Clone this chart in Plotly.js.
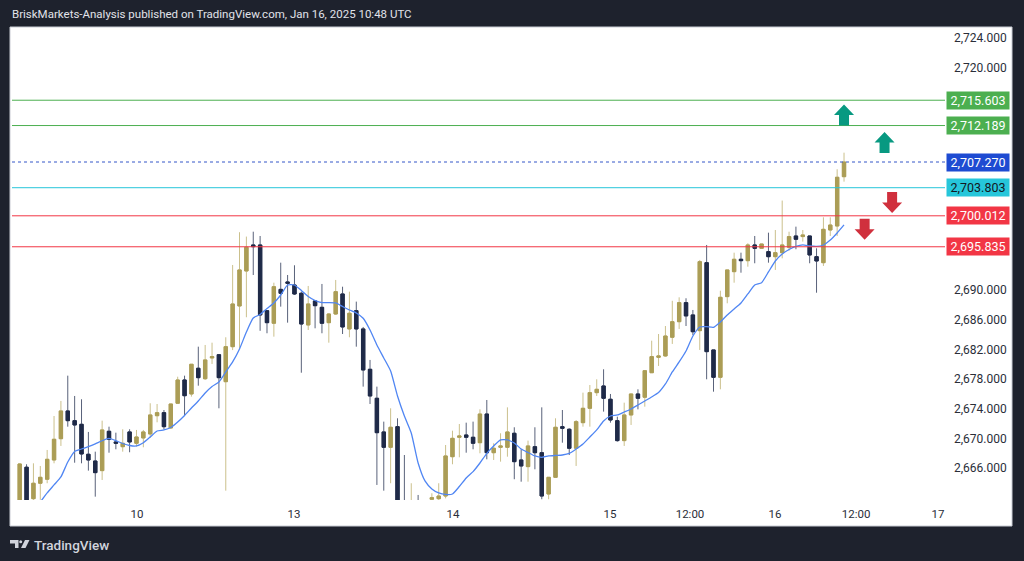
<!DOCTYPE html>
<html><head><meta charset="utf-8">
<script src="https://cdn.plot.ly/plotly-3.0.1.min.js"></script>
<style>html,body{margin:0;padding:0;background:#1e222d;}#chart{width:1024px;height:561px;}</style>
</head><body><div id="chart"></div>
<script>
// ---- data (hourly XAUUSD candles) ----
const openVals = [
2660.6,2666.10,2661.86,2663.94,2664.48,2667.08,2669.95,2673.69,2672.38,2671.89,
2667.85,2666.94,2665.64,2670.95,2669.51,2668.87,2670.86,2669.33,2670.05,2670.59,
2673.05,2673.46,2671.40,2674.73,2677.87,2675.98,2679.45,2678.04,2680.84,2681.28,
2677.64,2682.36,2687.85,2692.57,2696.08,2696.08,2687.22,2685.52,2690.09,2691.09,
2690.68,2689.56,2685.29,2688.53,2687.67,2685.60,2686.77,2689.47,2684.75,2687.22,
2684.75,2679.31,2675.40,2670.86,2668.79,2671.57,2661.0,2659.4,2660.8,2659.9,
2661.78,2661.86,2662.22,2667.52,2670.14,2670.45,2670.14,2669.41,2673.28,2668.06,
2668.79,2668.79,2670.68,2667.08,2666.18,2668.87,2668.06,2662.49,2664.74,2671.57,
2671.22,2668.66,2672.11,2674.05,2676.16,2677.06,2675.27,2672.38,2669.69,2673.15,
2675.98,2675.54,2678.85,2680.93,2681.11,2683.63,2685.73,2688.30,2686.64,2684.52,
2693.69,2681.92,2678.23,2689.11,2692.48,2694.15,2693.96,2696.08,2695.63,2695.18,
2694.50,2695.04,2695.77,2697.29,2697.21,2697.29,2694.50,2693.69,2698.10,2698.64,
2705.29];
const highVals = [
2666.62,2666.50,2666.63,2666.27,2668.43,2673.01,2675.04,2678.45,2675.71,2675.27,
2670.86,2668.20,2672.38,2671.57,2670.76,2671.22,2671.22,2671.13,2671.13,2674.73,
2674.63,2673.82,2674.63,2678.31,2678.45,2679.99,2682.36,2682.59,2682.90,2681.28,
2683.63,2693.38,2697.80,2697.21,2697.87,2697.29,2687.22,2690.99,2693.69,2692.03,
2693.34,2689.78,2690.55,2688.66,2690.82,2686.87,2691.36,2690.45,2689.78,2688.44,
2685.02,2680.57,2676.97,2672.25,2674.05,2672.70,2667.75,2663.94,2662.36,2661.4,
2662.59,2663.94,2669.10,2671.03,2671.93,2672.11,2672.25,2673.91,2675.17,2669.33,
2670.68,2674.18,2671.49,2668.52,2669.69,2671.49,2674.18,2664.74,2672.70,2673.82,
2671.35,2672.47,2676.16,2677.19,2677.96,2679.31,2675.98,2672.92,2674.81,2675.98,
2676.61,2679.12,2683.17,2684.07,2685.15,2688.55,2689.02,2688.89,2687.31,2694.06,
2696.08,2681.92,2689.91,2692.71,2695.04,2695.04,2696.31,2697.29,2696.21,2697.74,
2698.10,2702.07,2697.87,2698.55,2698.10,2697.29,2695.63,2699.81,2699.81,2706.29,
2708.53];
const lowVals = [
2660.2,2660.0,2661.5,2661.70,2663.94,2666.63,2668.97,2671.57,2666.71,2666.63,
2665.64,2662.13,2664.38,2668.06,2668.52,2668.20,2668.12,2668.87,2668.79,2670.05,
2672.16,2671.22,2671.30,2674.73,2673.15,2675.62,2677.10,2677.87,2680.03,2674.05,
2662.94,2681.90,2682.10,2686.33,2692.03,2684.50,2684.17,2683.71,2687.76,2685.60,
2689.33,2678.85,2684.61,2684.84,2684.17,2682.90,2686.64,2684.07,2683.63,2682.36,
2676.97,2674.63,2663.71,2662.94,2663.94,2659.8,2658.6,2658.9,2659.2,2659.5,
2661.3,2661.6,2661.90,2666.5,2667.44,2668.06,2668.52,2667.98,2667.17,2667.08,
2666.85,2667.52,2664.48,2664.15,2664.15,2665.82,2661.78,2661.78,2664.74,2669.41,
2667.75,2666.27,2671.57,2671.57,2675.71,2673.60,2672.11,2669.55,2668.97,2671.80,
2673.91,2674.27,2678.85,2679.76,2681.0,2682.73,2684.75,2685.15,2683.94,2681.92,
2677.96,2676.29,2676.61,2688.21,2690.99,2692.34,2693.15,2693.61,2695.63,2693.69,
2692.71,2694.28,2695.31,2695.50,2696.53,2693.61,2689.64,2693.25,2697.29,2697.29,
2704.62];
const closeVals = [
2666.54,2660.6,2663.94,2664.74,2667.17,2669.87,2673.69,2672.38,2671.80,2667.89,
2667.08,2665.37,2671.13,2669.87,2669.33,2669.33,2669.51,2670.18,2670.86,2673.15,
2673.46,2671.57,2674.63,2677.87,2675.75,2679.99,2678.18,2680.57,2681.02,2678.18,
2682.36,2688.12,2692.71,2695.77,2695.85,2686.64,2685.60,2690.45,2689.56,2690.91,
2689.47,2685.42,2688.12,2687.89,2685.52,2686.77,2689.78,2685.02,2686.87,2684.75,
2679.22,2675.71,2670.76,2668.79,2671.49,2660.9,2659.4,2660.8,2659.9,2660.6,
2661.99,2662.22,2667.62,2670.00,2670.32,2670.14,2669.33,2673.28,2668.06,2668.66,
2668.97,2670.86,2666.85,2666.27,2668.97,2668.06,2662.22,2664.74,2671.49,2671.35,
2668.66,2672.25,2674.05,2676.16,2676.61,2675.40,2672.47,2669.69,2673.15,2675.98,
2675.40,2679.12,2681.02,2681.11,2683.80,2685.73,2688.30,2686.51,2684.38,2693.83,
2681.69,2678.23,2689.02,2692.71,2694.15,2693.96,2696.08,2695.63,2696.21,2694.50,
2695.04,2696.08,2697.21,2696.85,2697.43,2694.73,2693.92,2698.19,2698.77,2705.21,
2707.27];
// moving average, starts at the 4th candle
const maStart = 3;
const maVals = [
2661.41,2662.63,2663.71,2664.79,2666.81,2668.23,2668.56,2668.87,2669.24,2669.67,
2669.98,2669.68,2669.30,2669.03,2668.97,2669.41,2670.18,2670.99,2671.13,2671.46,
2672.20,2673.08,2674.09,2675.04,2676.12,2676.99,2677.60,2678.95,2680.30,2682.05,
2684.34,2686.23,2686.70,2687.51,2688.26,2689.33,2690.68,2690.68,2689.94,2689.13,
2688.59,2688.30,2688.30,2688.26,2687.78,2687.31,2686.91,2686.19,2684.61,2682.59,
2680.84,2679.08,2675.71,2673.01,2670.72,2666.67,2664.25,2663.17,2662.63,2662.43,
2662.49,2663.50,2664.65,2665.50,2666.67,2667.98,2668.97,2669.78,2669.78,2669.37,
2668.56,2668.09,2667.62,2667.44,2667.62,2667.69,2667.75,2667.96,2668.56,2669.24,
2670.18,2671.13,2672.34,2673.01,2673.15,2673.55,2673.96,2674.50,2675.04,2675.58,
2676.18,2677.33,2678.95,2680.30,2681.78,2683.80,2685.02,2685.06,2684.98,2685.69,
2686.64,2687.45,2688.26,2689.47,2690.68,2690.99,2692.44,2693.92,2694.86,2695.47,
2695.88,2696.08,2695.94,2695.88,2696.08,2696.75,2697.70,2698.78];
// time-axis labels
const timeTickPos = [17.08, 39.93, 63.08, 85.93, 97.58, 109.96, 121.75, 133.69];
const timeTickText = ['10', '13', '14', '15', '12:00', '16', '12:00', '17'];
// price-axis labels (the ones not hidden behind the level tags)
const priceTicks = [2666, 2670, 2674, 2678, 2682, 2686, 2690, 2720, 2724];
// horizontal levels
const levelPrices = [2715.603, 2712.189, 2707.270, 2703.803, 2700.012, 2695.835];
const levelKinds  = ['target', 'target', 'last', 'pivot', 'stop', 'stop'];
// arrow markers (candle index, price, direction)
const arrowIdx   = [120.0, 125.9, 127.0, 123.0];
const arrowPrice = [2713.6, 2709.9, 2701.8, 2698.2];
const arrowDir   = ['up', 'up', 'down', 'down'];

// ---- styles ----
const UP = '#ab9d56', UPWICK = '#cbc08c', DN = '#1f2a48', DNWICK = '#59627a';
const kindStyle = {
  target: {line: '#4caf50', bg: '#4caf50', fg: '#ffffff', dash: 'solid'},
  last:   {line: '#3456c8', bg: '#1e4bd2', fg: '#ffffff', dash: 'dot'},
  pivot:  {line: '#26c6da', bg: '#26c6da', fg: '#131722', dash: 'solid'},
  stop:   {line: '#f23645', bg: '#f23645', fg: '#ffffff', dash: 'solid'}
};

// pixel helpers for decorations (plot area: x 12..945, y 27..500)
const PL = 12, PR = 945, PT = 27, PB = 500;
const px = v => (v - PL) / (PR - PL);
const py = v => (PB - v) / (PB - PT);

const idx = openVals.map((_, i) => i);
const bodyHigh = openVals.map((o, i) => Math.max(o, closeVals[i]));
const bodyLow  = openVals.map((o, i) => Math.min(o, closeVals[i]));
const maX = maVals.map((_, i) => i + maStart);

const traces = [
  { type: 'candlestick', x: idx, open: openVals, high: highVals, low: lowVals, close: closeVals,
    increasing: {line: {color: UPWICK, width: 1}, fillcolor: UPWICK},
    decreasing: {line: {color: DNWICK, width: 1}, fillcolor: DNWICK},
    hoverinfo: 'skip', showlegend: false },
  { type: 'candlestick', x: idx, open: openVals, high: bodyHigh, low: bodyLow, close: closeVals,
    increasing: {line: {color: UP, width: 1}, fillcolor: UP},
    decreasing: {line: {color: DN, width: 1}, fillcolor: DN},
    hoverinfo: 'skip', showlegend: false },
  { type: 'scatter', mode: 'lines', x: maX, y: maVals,
    line: {color: '#5086f3', width: 1.3, shape: 'spline', smoothing: 0.5},
    hoverinfo: 'skip', showlegend: false }
];

const shapes = [
  // white chart panel incl. scales
  {type: 'rect', xref: 'paper', yref: 'paper', x0: px(10), x1: px(1012), y0: py(526), y1: py(27),
   fillcolor: '#ffffff', line: {color: '#c9ccd4', width: 1}, layer: 'below'}
];
levelPrices.forEach((p, i) => {
  const s = kindStyle[levelKinds[i]];
  shapes.push({type: 'line', xref: 'paper', yref: 'y', x0: 0, x1: 1, y0: p, y1: p,
    line: {color: s.line, width: 1, dash: s.dash}, layer: 'above'});
});
const upPath = 'M 0 10.5 L 10 0 L 5 0 L 5 -10.5 L -5 -10.5 L -5 0 L -10 0 Z';
const dnPath = 'M 0 -10.5 L 10 0 L 5 0 L 5 10.5 L -5 10.5 L -5 0 L -10 0 Z';
arrowIdx.forEach((xv, i) => {
  const up = arrowDir[i] === 'up';
  shapes.push({type: 'path', xref: 'x', yref: 'y', xsizemode: 'pixel', ysizemode: 'pixel',
    xanchor: xv, yanchor: arrowPrice[i], path: up ? upPath : dnPath,
    fillcolor: up ? '#089981' : '#d0303d', line: {width: 0}, layer: 'above'});
});
// TradingView logo
shapes.push({type: 'path', xref: 'paper', yref: 'paper',
  path: `M ${px(10)} ${py(540)} L ${px(18.5)} ${py(540)} L ${px(18.5)} ${py(548)} L ${px(15)} ${py(548)} L ${px(15)} ${py(543.5)} L ${px(10)} ${py(543.5)} Z`,
  fillcolor: '#d1d4dc', line: {width: 0}});
shapes.push({type: 'circle', xref: 'paper', yref: 'paper', x0: px(19.2), x1: px(22.2), y0: py(543.3), y1: py(540.3),
  fillcolor: '#d1d4dc', line: {width: 0}});
shapes.push({type: 'path', xref: 'paper', yref: 'paper',
  path: `M ${px(25)} ${py(540)} L ${px(29.5)} ${py(540)} L ${px(25.5)} ${py(548)} L ${px(21)} ${py(548)} Z`,
  fillcolor: '#d1d4dc', line: {width: 0}});

const annotations = [
  {xref: 'paper', yref: 'paper', x: px(10), y: py(14), xanchor: 'left', yanchor: 'middle',
   text: 'BriskMarkets-Analysis published on TradingView.com, Jan 16, 2025 10:48 UTC',
   showarrow: false, font: {family: 'Roboto, sans-serif', size: 11.5, color: '#e1e3ea'}},
  {xref: 'paper', yref: 'paper', x: px(31.5), y: py(544.5), xanchor: 'left', yanchor: 'middle',
   text: 'TradingView', showarrow: false,
   font: {family: 'Roboto, sans-serif', size: 13.5, color: '#d1d4dc', weight: 500}}
];
levelPrices.forEach((p, i) => {
  const s = kindStyle[levelKinds[i]];
  annotations.push({xref: 'paper', yref: 'y', x: 1, y: p, xanchor: 'left', yanchor: 'middle',
    xshift: 1, text: p.toLocaleString('en-US', {minimumFractionDigits: 3, maximumFractionDigits: 3}),
    showarrow: false, bgcolor: s.bg, width: 60, height: 15, borderpad: 1, align: 'center',
    font: {family: 'Roboto, sans-serif', size: 12.5, color: s.fg}});
});

const layout = {
  width: 1024, height: 561, autosize: false,
  paper_bgcolor: '#1e222d', plot_bgcolor: '#ffffff',
  margin: {l: PL, r: 1024 - PR, t: PT, b: 561 - PB, pad: 0},
  showlegend: false,
  xaxis: {range: [-1.12, 134.7], rangeslider: {visible: false}, showgrid: false, zeroline: false,
    showline: false, tickmode: 'array', tickvals: timeTickPos, ticktext: timeTickText,
    ticks: '', ticklabelstandoff: 5,
    tickfont: {family: 'Roboto, sans-serif', size: 11.5, color: '#2a2e39'}, fixedrange: true},
  yaxis: {range: [2661.68, 2725.48], side: 'right', showgrid: false, zeroline: false, showline: false,
    tickmode: 'array', tickvals: priceTicks, tickformat: ',.3f', ticks: '', ticklabelstandoff: 8,
    tickfont: {family: 'Roboto, sans-serif', size: 12, color: '#2a2e39'}, fixedrange: true},
  shapes: shapes, annotations: annotations
};

Plotly.newPlot('chart', traces, layout, {displayModeBar: false, staticPlot: true});
</script></body></html>
